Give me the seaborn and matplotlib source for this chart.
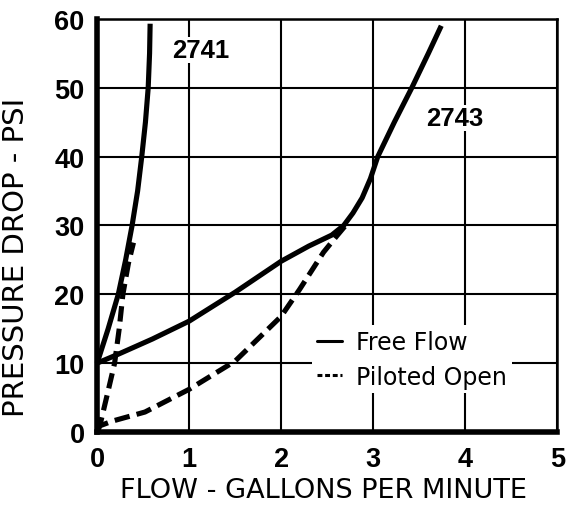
import pandas as pd
import seaborn as sns
import matplotlib.pyplot as plt
from matplotlib.lines import Line2D

# values (flow in GPM, pressure drop in PSI)
free_2741_x = [0.0, 0.12, 0.23, 0.31, 0.38, 0.44, 0.485, 0.525, 0.555, 0.57, 0.576]
free_2741_y = [10.0, 15.0, 20.0, 25.0, 30.0, 35.0, 40.0, 45.0, 50.0, 55.0, 59.3]

pilot_2741_x = [0.0, 0.04, 0.12, 0.19, 0.24, 0.28, 0.34, 0.395]
pilot_2741_y = [0.0, 1.5, 6.0, 10.0, 15.0, 20.0, 24.5, 27.5]

free_2743_x = [0.0, 0.23, 0.6, 1.0, 1.5, 2.0, 2.3, 2.55, 2.68, 2.78, 2.88, 2.97, 3.05, 3.23, 3.42, 3.6, 3.74]
free_2743_y = [10.0, 11.3, 13.5, 16.1, 20.3, 24.8, 27.0, 28.6, 30.0, 31.8, 34.0, 36.8, 40.0, 45.0, 50.0, 55.0, 59.0]

pilot_2743_x = [0.0, 0.03, 0.17, 0.52, 1.0, 1.5, 2.0, 2.2, 2.46, 2.6, 2.7]
pilot_2743_y = [0.0, 0.9, 1.6, 2.9, 6.2, 10.3, 16.8, 20.7, 26.1, 28.4, 30.0]

x_ticks = [0, 1, 2, 3, 4, 5]
y_ticks = [0, 10, 20, 30, 40, 50, 60]
legend_labels = ["Free Flow", "Piloted Open"]

sns.set_style("white")
plt.rcParams["font.family"] = ["Liberation Sans", "DejaVu Sans"]
for key in ["text.color", "axes.labelcolor", "xtick.color", "ytick.color"]:
    plt.rcParams[key] = "black"

fig = plt.figure(figsize=(5.68, 5.10), dpi=100)
ax = fig.add_axes([0.171, 0.151, 0.81, 0.81])

curves = [
    (free_2741_x, free_2741_y, "-"),
    (pilot_2741_x, pilot_2741_y, "--"),
    (free_2743_x, free_2743_y, "-"),
    (pilot_2743_x, pilot_2743_y, "--"),
]
for xs, ys, ls in curves:
    df = pd.DataFrame({"flow": xs, "psi": ys})
    sns.lineplot(data=df, x="flow", y="psi", sort=False, ax=ax,
                 color="black", lw=3.7, zorder=5)
    ln = ax.lines[-1]
    ln.set_linestyle(ls)
    ln.set_clip_on(False)
    if ls == "--":
        ln.set_dashes((3.0, 1.4))
    ln.set_solid_capstyle("butt")
    ln.set_solid_joinstyle("round")

ax.set_xlim(0, 5)
ax.set_ylim(0, 60)
ax.set_xticks(x_ticks)
ax.set_yticks(y_ticks)
ax.tick_params(length=0, labelsize=19.5)
ax.tick_params(axis="x", pad=10)
ax.tick_params(axis="y", pad=9)
for lab in ax.get_xticklabels() + ax.get_yticklabels():
    lab.set_fontweight("bold")
ax.grid(True, color="black", lw=1.5)
ax.set_axisbelow(True)

for side, w in [("left", 4), ("bottom", 4), ("top", 1.8), ("right", 1.8)]:
    ax.spines[side].set_visible(True)
    ax.spines[side].set_color("black")
    ax.spines[side].set_linewidth(w)
    ax.spines[side].set_zorder(6)

ax.set_xlabel("FLOW - GALLONS PER MINUTE", fontsize=19.5, family="DejaVu Sans")
ax.set_ylabel("PRESSURE DROP - PSI", fontsize=21, family="DejaVu Sans")
ax.xaxis.set_label_coords(0.491, -0.11)
ax.yaxis.set_label_coords(-0.146, 0.426)

box = dict(facecolor="white", edgecolor="none", pad=1)
ax.text(1.13, 55.5, "2741", fontsize=18.5, fontweight="bold", ha="center", va="center",
        bbox=box, zorder=4)
ax.text(3.89, 45.6, "2743", fontsize=18.5, fontweight="bold", ha="center", va="center",
        bbox=box, zorder=4)

handles = [Line2D([], [], color="black", lw=2.2, ls="-"),
           Line2D([], [], color="black", lw=2.2, ls=(0, (1.6, 0.9)))]
leg = ax.legend(handles, legend_labels, loc="center left", bbox_to_anchor=(0.442, 0.176),
                frameon=True, fancybox=False, edgecolor="none", framealpha=1,
                handlelength=1.06, handletextpad=0.6, borderpad=0.2, labelspacing=0.45,
                prop={"family": "DejaVu Sans", "size": 17})
leg.set_zorder(4)

fig.savefig("out.png", dpi=100)
